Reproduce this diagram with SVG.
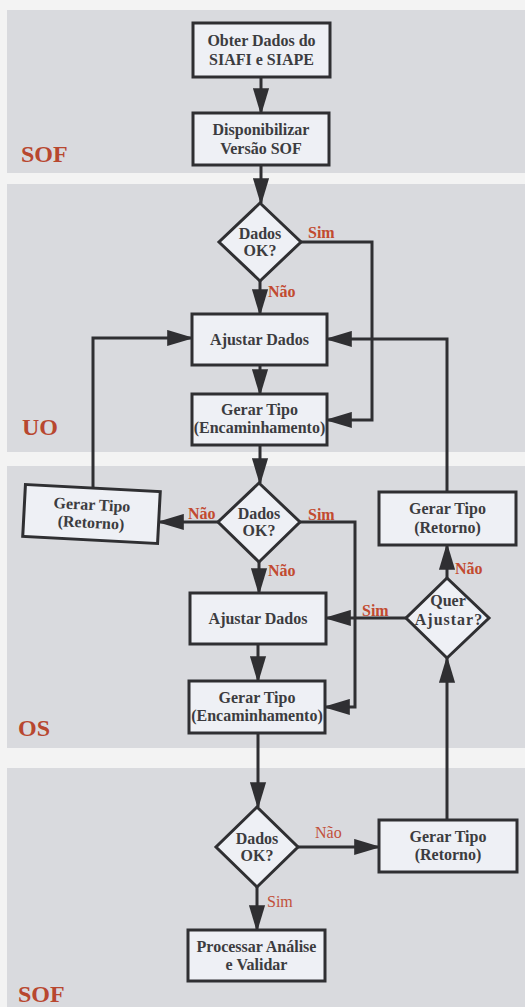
<svg xmlns="http://www.w3.org/2000/svg" width="525" height="1007" viewBox="0 0 525 1007">
<defs>
<style>
.band{fill:#d9dade}
.node{fill:#eef0f5;stroke:#2f2f32;stroke-width:3}
.t{font-weight:bold;font-size:16px;fill:#3c3c40;text-anchor:middle}
.lane{font-weight:bold;font-size:24px;fill:#b8472f}
.lb{font-weight:bold;font-size:16px;fill:#c24a30}
.lr{font-size:16px;fill:#c2503a}
.c{fill:none;stroke:#2f2f32;stroke-width:3}
</style>
<marker id="ah" markerUnits="userSpaceOnUse" markerWidth="27" markerHeight="17" viewBox="0 0 25 15" refX="23" refY="7.5" orient="auto">
<path d="M0,0 L25,7.5 L0,15 z" fill="#2f2f32"/>
</marker>
</defs>
<rect x="0" y="0" width="525" height="1007" fill="#f3f3f3"/>
<g id="bands">
<rect class="band" x="7" y="10" width="518" height="163"/>
<rect class="band" x="7" y="184" width="518" height="268"/>
<rect class="band" x="7" y="466" width="518" height="282"/>
<rect class="band" x="7" y="768" width="518" height="239"/>
</g>
<g font-family="'Liberation Serif', 'Times New Roman', Times, 'DejaVu Serif', serif">
<g id="lanes">
<text class="lane" x="21" y="162">SOF</text>
<text class="lane" x="22" y="435">UO</text>
<text class="lane" x="18" y="736">OS</text>
<text class="lane" x="18" y="1002">SOF</text>
</g>
<g id="connectors">
<path class="c" d="M261,77 V113" marker-end="url(#ah)"/>
<path class="c" d="M261,165 V203" marker-end="url(#ah)"/>
<path class="c" d="M260,281 V314" marker-end="url(#ah)"/>
<path class="c" d="M301,242 H372 V420 H327" marker-end="url(#ah)"/>
<path class="c" d="M260,365 V394" marker-end="url(#ah)"/>
<path class="c" d="M260,445 V483" marker-end="url(#ah)"/>
<path class="c" d="M218,522 H159" marker-end="url(#ah)"/>
<path class="c" d="M93,488 V338 H192" marker-end="url(#ah)"/>
<path class="c" d="M300,522 H355 V707 H325" marker-end="url(#ah)"/>
<path class="c" d="M259,562 V593" marker-end="url(#ah)"/>
<path class="c" d="M258,644 V681" marker-end="url(#ah)"/>
<path class="c" d="M258,733 V807" marker-end="url(#ah)"/>
<path class="c" d="M298,847 H379" marker-end="url(#ah)"/>
<path class="c" d="M257,887 V930" marker-end="url(#ah)"/>
<path class="c" d="M447,820 V658" marker-end="url(#ah)"/>
<path class="c" d="M447,578 V545" marker-end="url(#ah)"/>
<path class="c" d="M406,618 H326" marker-end="url(#ah)"/>
<path class="c" d="M447,492 V339 H327" marker-end="url(#ah)"/>
<text class="lb" x="268" y="297">Não</text>
<text class="lb" x="308" y="238">Sim</text>
<text class="lb" x="188" y="519">Não</text>
<text class="lb" x="308" y="520">Sim</text>
<text class="lb" x="268" y="576">Não</text>
<text class="lb" x="455" y="574">Não</text>
<text class="lb" x="362" y="616">Sim</text>
<text class="lr" x="315" y="838">Não</text>
<text class="lr" x="267" y="907">Sim</text>
</g>
<g id="n-obter">
<rect class="node" x="193" y="23" width="137" height="54"/>
<text class="t" x="261.5" y="46">Obter Dados do</text>
<text class="t" x="261.5" y="65">SIAFI e SIAPE</text>
</g>
<g id="n-disp">
<rect class="node" x="193" y="113" width="136" height="52"/>
<text class="t" x="261" y="135">Disponibilizar</text>
<text class="t" x="261" y="154">Versão SOF</text>
</g>
<g id="d-uo">
<polygon class="node" points="260,203 301,242 260,281 219,242"/>
<text class="t" x="260" y="239">Dados</text>
<text class="t" x="260" y="256">OK?</text>
</g>
<g id="n-ajustar-uo">
<rect class="node" x="192" y="314" width="135" height="51"/>
<text class="t" x="259.5" y="345">Ajustar Dados</text>
</g>
<g id="n-gerar-uo">
<rect class="node" x="192" y="394" width="135" height="51"/>
<text class="t" x="259.5" y="415">Gerar Tipo</text>
<text class="t" x="259.5" y="433">(Encaminhamento)</text>
</g>
<g id="d-os">
<polygon class="node" points="259,483 300,522 259,562 218,522"/>
<text class="t" x="259" y="519">Dados</text>
<text class="t" x="259" y="536">OK?</text>
</g>
<g id="n-retorno-left" transform="rotate(3 91.5 514)">
<rect class="node" x="24" y="488" width="135" height="52"/>
<text class="t" x="91.5" y="510">Gerar Tipo</text>
<text class="t" x="91.5" y="528">(Retorno)</text>
</g>
<g id="n-retorno-right">
<rect class="node" x="379" y="492" width="137" height="53"/>
<text class="t" x="447.5" y="514">Gerar Tipo</text>
<text class="t" x="447.5" y="533">(Retorno)</text>
</g>
<g id="d-quer">
<polygon class="node" points="447,578 489,618 447,658 406,618"/>
<text class="t" x="448" y="606">Quer</text>
<text class="t" x="449" y="625" letter-spacing="1">Ajustar?</text>
</g>
<g id="n-ajustar-os">
<rect class="node" x="190" y="593" width="136" height="51"/>
<text class="t" x="258" y="624">Ajustar Dados</text>
</g>
<g id="n-gerar-os">
<rect class="node" x="189" y="681" width="136" height="52"/>
<text class="t" x="257" y="703">Gerar Tipo</text>
<text class="t" x="257" y="721">(Encaminhamento)</text>
</g>
<g id="d-sof">
<polygon class="node" points="257,807 298,847 257,887 216,847"/>
<text class="t" x="257" y="844">Dados</text>
<text class="t" x="257" y="861">OK?</text>
</g>
<g id="n-retorno-bottom">
<rect class="node" x="379" y="820" width="138" height="52"/>
<text class="t" x="448" y="842">Gerar Tipo</text>
<text class="t" x="448" y="860">(Retorno)</text>
</g>
<g id="n-processar">
<rect class="node" x="188" y="930" width="137" height="51"/>
<text class="t" x="256.5" y="952">Processar Análise</text>
<text class="t" x="256.5" y="970">e Validar</text>
</g>
</g>
</svg>
